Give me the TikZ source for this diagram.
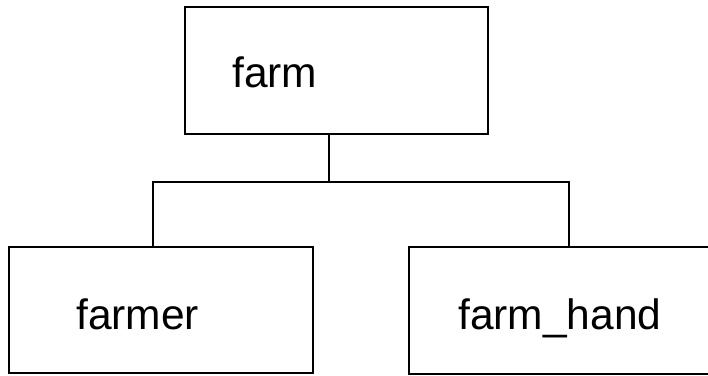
\documentclass[tikz,border=0pt]{standalone}
\usepackage{fontspec}
\setmainfont{Liberation Sans}
\begin{document}
\begin{tikzpicture}[x=1pt,y=-1pt,
  box/.style={draw=black, line width=2pt, fill=white, inner sep=0pt, outer sep=0pt},
  lbl/.style={anchor=base west, inner sep=0pt, font=\fontsize{42.5}{51}\selectfont},
  link/.style={draw=black, line width=2pt}]
\useasboundingbox (0,0) rectangle (708,375);
\clip (0,0) rectangle (708,375);
% boxes
\node[box, minimum width=303pt, minimum height=127pt] (top) at (336.5,70.5) {};
\node[box, minimum width=304pt, minimum height=126pt] (lb) at (161,310) {};
\node[box, minimum width=320pt, minimum height=127pt] (rb) at (569,310.5) {};
% labels
\node[lbl] (tfarm) at (232,87) {farm};
\node[lbl] (tfarmer) at (76,329) {farmer};
\node[lbl] (thand) at (458,329) {farm\_hand};
% connector tree
\coordinate (j) at (329,182);
\coordinate (bl) at (153,182);
\coordinate (br) at (569,182);
\draw[link] (j |- top.south) -- (j);
\draw[link] (bl |- lb.north) -- (bl) -- (br) -- (br |- rb.north);
\end{tikzpicture}
\end{document}
